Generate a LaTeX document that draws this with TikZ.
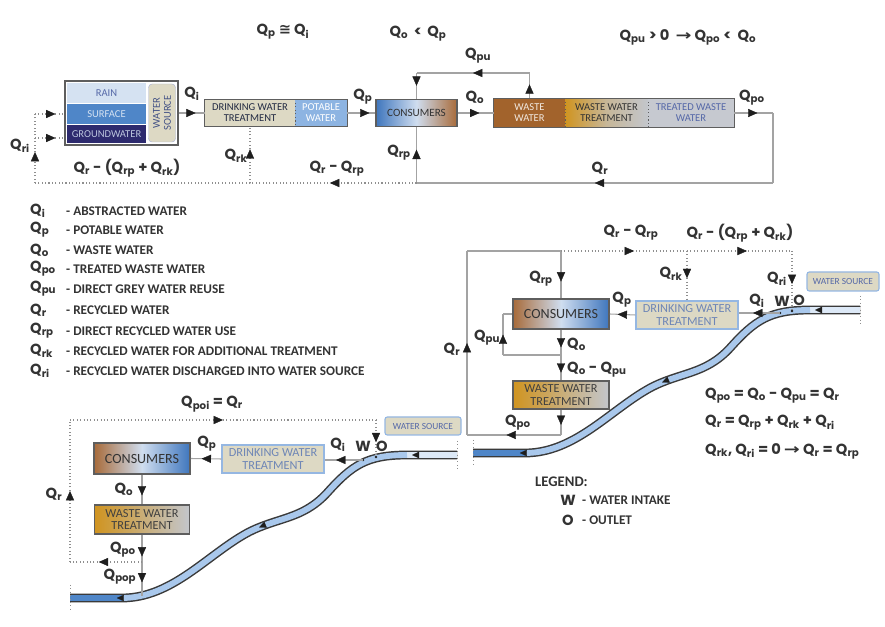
\documentclass[tikz,border=0pt]{standalone}
\usepackage{fontspec}
\usepackage{graphicx}
\setmainfont{Carlito}
\newfontfamily\qfont{Poppins}
\newfontfamily\symfont{DejaVu Sans}
\usetikzlibrary{arrows.meta,decorations.markings}

\definecolor{linegray}{HTML}{A3A3A3}
\definecolor{dotgray}{HTML}{8F8F8F}
\definecolor{tipdark}{HTML}{1E1E1E}
\definecolor{boxedge}{HTML}{5E5E5E}
\definecolor{beige}{HTML}{DDD9C4}
\definecolor{beigeedge}{HTML}{95B7E2}
\definecolor{skyblue}{HTML}{8DB4E2}
\definecolor{rainblue}{HTML}{D5E2F2}
\definecolor{surfblue}{HTML}{4F86C8}
\definecolor{groundnavy}{HTML}{2D2A6E}
\definecolor{consblue}{HTML}{3F76BD}
\definecolor{conspale}{HTML}{CFDDEF}
\definecolor{consbrown}{HTML}{A86B3A}
\definecolor{wastebrown}{HTML}{A2632C}
\definecolor{wwtgold}{HTML}{D09420}
\definecolor{wwtgrey}{HTML}{C3C6CC}
\definecolor{twwgrey}{HTML}{C6C9D0}
\definecolor{txtblue}{HTML}{5568A8}
\definecolor{dwtblue}{HTML}{6E86B6}
\definecolor{riveredge}{HTML}{3A3A3A}
\definecolor{riverdeep}{HTML}{4F86C8}
\definecolor{rivermid}{HTML}{A9C8EC}
\definecolor{riverpale}{HTML}{DDE9F7}

\newcommand{\qs}[1]{Q\textsubscript{#1}}
\newcommand{\qlabfont}{\qfont\bfseries\fontsize{12.5}{14}\selectfont}
\newcommand{\legfont}{\bfseries\fontsize{11.3}{12}\selectfont}
\def\unitpx{0.03cm}

\tikzset{
  flow/.style={draw=linegray, line width=0.9pt},
  dotflow/.style={draw=dotgray, line width=0.9pt, dotted},
  arrowmark/.style={postaction={decorate}, decoration={markings,
      mark=at position #1 with {\arrow{Triangle[length=8pt, width=7pt, line width=0.3pt, color=tipdark]}}}},
  arrowmark/.default=0.5,
  rivertip/.style={postaction={decorate}, decoration={markings,
      mark=at position #1 with {\arrow{Triangle[length=6pt, width=5.5pt, line width=0.2pt, color=tipdark]}}}},
  qlab/.style={font=\qlabfont, text=black!80, inner sep=0pt},
  legtext/.style={font=\legfont, text=black!80, inner sep=0pt, anchor=west},
  plainbox/.style={rectangle, inner sep=0pt, align=center, font=\fontsize{9}{9.5}\selectfont},
  dwtbox/.style={plainbox, fill=beige, draw=beigeedge, line width=1pt, text=dwtblue, font=\fontsize{10.5}{11}\selectfont},
  srcbox/.style={plainbox, fill=beige, draw=beigeedge, line width=1pt, rounded corners=2pt, text=txtblue, font=\fontsize{8}{8}\selectfont},
  consbox/.style={plainbox, draw=boxedge, line width=1.6pt, font=\fontsize{12}{12}\selectfont, text=black!80},
  wwtbox/.style={plainbox, draw=boxedge, line width=1.2pt, left color=wwtgold, right color=wwtgrey, font=\fontsize{10.5}{11}\selectfont, text=black!75},
  wolabel/.style={font=\qfont\bfseries\fontsize{12.5}{13}\selectfont, text=black!80, inner sep=0pt},
  riverdot/.style={circle, fill=tipdark, inner sep=0pt, minimum size=2.5pt}
}

\begin{document}
\begin{tikzpicture}[x=\unitpx, y=-\unitpx]
  \useasboundingbox (0,0) rectangle (885,627);

  % Top scheme: boxes
  \node[plainbox, draw=boxedge, fill=white, line width=1.4pt, minimum width=113*\unitpx, minimum height=64*\unitpx] (src) at (121.5,113) {};
  \node[plainbox, fill=rainblue, text=txtblue, minimum width=79*\unitpx, minimum height=20*\unitpx] (rain) at (106.5,93) {RAIN};
  \node[plainbox, fill=surfblue, text=rainblue, minimum width=79*\unitpx, minimum height=20*\unitpx] (surf) at (106.5,114) {SURFACE};
  \node[plainbox, fill=groundnavy, text=rainblue!85!groundnavy, minimum width=79*\unitpx, minimum height=18*\unitpx] (ground) at (106.5,134) {GROUNDWATER};
  \node[plainbox, fill=beige, draw=txtblue!50, rounded corners=3pt, rotate=90, text=txtblue!80!black, minimum width=58*\unitpx, minimum height=27*\unitpx] (srcname) at (162,113) {WATER\\SOURCE};

  \node[plainbox, fill=beige, text=black!60!txtblue, minimum width=90*\unitpx, minimum height=27*\unitpx] (dwt) at (250,113) {DRINKING WATER\\TREATMENT};
  \node[plainbox, fill=skyblue, text=white, minimum width=52*\unitpx, minimum height=27*\unitpx] (pot) at (321,113) {POTABLE\\WATER};
  \draw[boxedge, line width=1.2pt] (dwt.north west) rectangle (pot.south east);
  \draw[boxedge, dotted, line width=1pt] (dwt.north east) -- (dwt.south east);

  \node[consbox, left color=consblue, right color=consbrown, middle color=conspale, minimum width=81*\unitpx, minimum height=27*\unitpx, font=\fontsize{9.5}{10}\selectfont] (cons) at (416.5,113) {CONSUMERS};

  \node[plainbox, fill=wastebrown, text=white!85!wastebrown, minimum width=71*\unitpx, minimum height=29*\unitpx] (ww) at (529.5,113) {WASTE\\WATER};
  \node[plainbox, left color=wwtgold, right color=wwtgrey, middle color=wwtgrey!70!wwtgold, text=black!80, minimum width=83*\unitpx, minimum height=29*\unitpx] (wwt) at (606.5,113) {WASTE WATER\\TREATMENT};
  \node[plainbox, fill=twwgrey, text=txtblue, minimum width=86*\unitpx, minimum height=29*\unitpx] (tww) at (691,113) {TREATED WASTE\\WATER};
  \draw[boxedge, line width=1.2pt] (ww.north west) rectangle (tww.south east);
  \draw[boxedge, dotted, line width=1pt] (ww.north east) -- (ww.south east);
  \draw[boxedge, dotted, line width=1pt] (wwt.north east) -- (wwt.south east);

  % Top scheme: flows
  \coordinate (riA) at (35,114);
  \coordinate (riB) at (35,138);
  \coordinate (riC) at (35,183);
  \coordinate (rcA) at (773,113);
  \coordinate (rcB) at (773,183);
  \coordinate (rpJ) at (416.5,183);
  \coordinate (rkJ) at (250,183);
  \coordinate (puA) at (529.5,73);
  \coordinate (puB) at (416.5,73);

  \draw[flow, arrowmark=0.65] (src.east) -- (dwt.west);
  \draw[flow, arrowmark=0.8] (pot.east) -- (cons.west);
  \draw[flow, arrowmark=0.6] (cons.east) -- (ww.west);
  \draw[flow, arrowmark=0.55] (ww.north) -- (puA);
  \draw[flow, arrowmark=0.5] (puA) -- (puB);
  \draw[flow, arrowmark=0.5] (puB) -- (cons.north);
  \draw[flow, arrowmark=0.6] (tww.east) -- (rcA);
  \draw[flow] (rcA) -- (rcB);
  \draw[flow, arrowmark=0.5] (rcB) -- (rpJ);
  \draw[flow, arrowmark=0.6] (rpJ) -- (cons.south);
  \draw[dotflow, arrowmark=0.52] (rpJ) -- (rkJ);
  \draw[dotflow, arrowmark=0.6] (rkJ) -- (dwt.south);
  \draw[dotflow] (rkJ) -- (riC);
  \draw[dotflow, arrowmark=0.45] (riC) -- (riA);
  \draw[dotflow, arrowmark=0.7] (riA) -- (riA -| src.west);
  \draw[dotflow, arrowmark=0.7] (riB) -- (riB -| src.west);

  % Top scheme: labels
  \node[qlab] (eqa) at (283,32) {\qs{p} {\symfont ≅} \qs{i}};
  \node[qlab] (eqb) at (418,34) {\qs{o} \,<\, \qs{p}};
  \node[qlab] (eqc) at (688,37) {\qs{pu} > 0 \ {\symfont\scalebox{1.3}[1]{→}}\ \qs{po} < \ \qs{o}};
  \node[qlab] (lqi) at (192,94) {\qs{i}};
  \node[qlab] (lqp) at (363,97) {\qs{p}};
  \node[qlab] (lqo) at (475,97) {\qs{o}};
  \node[qlab] (lqpu) at (478,56) {\qs{pu}};
  \node[qlab] (lqpo) at (752,98) {\qs{po}};
  \node[qlab] (lqr) at (600,168) {\qs{r}};
  \node[qlab] (lqrp) at (399,153) {\qs{rp}};
  \node[qlab] (lqrrp) at (337,169) {\qs{r} - \qs{rp}};
  \node[qlab] (lqrk) at (236,156) {\qs{rk}};
  \node[qlab] (lqrrk) at (127,168) {\qs{r} - (\qs{rp} + \qs{rk})};
  \node[qlab] (lqri) at (20,146) {\qs{ri}};

  % Symbol list
  \node[qlab, anchor=west] (sqi) at (30,211) {\qs{i}};
  \node[legtext] (sti) at (66,211) {- ABSTRACTED WATER};
  \node[qlab, anchor=west] (sqp) at (30,230) {\qs{p}};
  \node[legtext] (stp) at (66,230) {- POTABLE WATER};
  \node[qlab, anchor=west] (sqo) at (30,250) {\qs{o}};
  \node[legtext] (sto) at (66,250) {- WASTE WATER};
  \node[qlab, anchor=west] (sqpo) at (30,269) {\qs{po}};
  \node[legtext] (stpo) at (66,269) {- TREATED WASTE WATER};
  \node[qlab, anchor=west] (sqpu) at (30,289) {\qs{pu}};
  \node[legtext] (stpu) at (66,289) {- DIRECT GREY WATER REUSE};
  \node[qlab, anchor=west] (sqr) at (30,310) {\qs{r}};
  \node[legtext] (str) at (66,310) {- RECYCLED WATER};
  \node[qlab, anchor=west] (sqrp) at (30,331) {\qs{rp}};
  \node[legtext] (strp) at (66,331) {- DIRECT RECYCLED WATER USE};
  \node[qlab, anchor=west] (sqrk) at (30,351) {\qs{rk}};
  \node[legtext] (strk) at (66,351) {- RECYCLED WATER FOR ADDITIONAL TREATMENT};
  \node[qlab, anchor=west] (sqri) at (30,371) {\qs{ri}};
  \node[legtext] (stri) at (66,371) {- RECYCLED WATER DISCHARGED INTO WATER SOURCE};

  % Rivers
  \foreach \dx/\dy in {0/0,-403/145}{
    \begin{scope}[shift={(\dx,\dy)}]
      \draw[riveredge, line width=7.5pt] (860,310) -- (810,310) .. controls (770,310) and (755,320) .. (730,348)
        .. controls (705,375) and (680,372) .. (650,388) .. controls (610,410) and (575,453) .. (525,453) -- (473,453);
      \draw[riverpale, line width=5pt, rivertip=0.9] (860,310) -- (810,310);
      \draw[rivermid, line width=5pt, rivertip=0.52] (810,310) .. controls (770,310) and (755,320) .. (730,348)
        .. controls (705,375) and (680,372) .. (650,388) .. controls (610,410) and (575,453) .. (525,453);
      \draw[riverdeep, line width=5pt, rivertip=0.1] (525,453) -- (473,453);
      \draw[dotflow, line width=0.6pt] (860,296) -- (860,324);
      \draw[dotflow, line width=0.6pt] (473,440) -- (473,466);
    \end{scope}
  }

  % Right scheme
  \node[consbox, left color=consbrown, right color=consblue, middle color=conspale, minimum width=96*\unitpx, minimum height=30*\unitpx] (cons2) at (561,314) {CONSUMERS};
  \node[wwtbox, minimum width=96*\unitpx, minimum height=28*\unitpx] (wwt2) at (561,395) {WASTE WATER\\TREATMENT};
  \node[dwtbox, minimum width=102*\unitpx, minimum height=28*\unitpx] (dwt2) at (687,315) {DRINKING WATER\\TREATMENT};
  \node[srcbox, minimum width=72*\unitpx, minimum height=19*\unitpx] (src2) at (843,281.5) {WATER SOURCE};

  \coordinate (intW) at (780,313);
  \coordinate (outO) at (792,311);
  \node[riverdot] (wdot) at (intW) {};
  \node[riverdot] (odot) at (outO) {};
  \coordinate (tA) at (467,251);
  \coordinate (tB) at (561,251);
  \coordinate (tC) at (687,251);
  \coordinate (tD) at (792,251);
  \coordinate (bA) at (467,435);
  \coordinate (bB) at (561,435);
  \coordinate (puC) at (503,314);
  \coordinate (puD) at (503,355);
  \coordinate (puE) at (561,355);

  \draw[flow, arrowmark=0.5] (bA) -- (tA);
  \draw[flow] (tA) -- (tB);
  \draw[flow, arrowmark=0.65] (tB) -- (cons2.north);
  \draw[dotflow, arrowmark=0.58] (tB) -- (tC);
  \draw[dotflow, arrowmark=0.57] (tC) -- (tD);
  \draw[dotflow, arrowmark=0.55] (tC) -- (dwt2.north);
  \draw[dotflow, arrowmark=0.55] (tD) -- (outO);
  \draw[flow, arrowmark=0.7] (dwt2.west) -- (cons2.east);
  \draw[flow, arrowmark=0.65] (intW) -- (intW -| dwt2.east);
  \draw[flow] (cons2.west) -- (puC);
  \draw[flow, arrowmark=0.5] (puD) -- (puC);
  \draw[flow] (puE) -- (puD);
  \draw[flow, arrowmark=0.7] (cons2.south) -- (puE);
  \draw[flow, arrowmark=0.7] (puE) -- (wwt2.north);
  \draw[flow, arrowmark=0.6] (wwt2.south) -- (bB);
  \draw[flow, arrowmark=0.58] (bB) -- (bA);

  \node[qlab] (rqrrp) at (631,233) {\qs{r} - \qs{rp}};
  \node[qlab] (rqrrk) at (740,233) {\qs{r} - (\qs{rp} + \qs{rk})};
  \node[qlab] (rqrp) at (541,279) {\qs{rp}};
  \node[qlab] (rqrk) at (671,274) {\qs{rk}};
  \node[qlab] (rqri) at (777,279) {\qs{ri}};
  \node[qlab] (rqp) at (622,300) {\qs{p}};
  \node[qlab] (rqi) at (757,301) {\qs{i}};
  \node[wolabel] (rw) at (782,301) {W};
  \node[wolabel] (ro) at (799,300) {O};
  \node[qlab] (rqpu) at (487,338) {\qs{pu}};
  \node[qlab] (rqr) at (452,349) {\qs{r}};
  \node[qlab, anchor=west] (rqo) at (567,344) {\qs{o}};
  \node[qlab, anchor=west] (rqopu) at (567,370) {\qs{o} - \qs{pu}};
  \node[qlab] (rqpo) at (518,423) {\qs{po}};

  \node[qlab, anchor=west] (eqd) at (705,396) {\qs{po} = \qs{o} - \qs{pu} = \qs{r}};
  \node[qlab, anchor=west] (eqe) at (705,423) {\qs{r} = \qs{rp} + \qs{rk} + \qs{ri}};
  \node[qlab, anchor=west] (eqf) at (705,451) {\qs{rk}, \qs{ri} = 0 {\symfont\scalebox{1.3}[1]{→}} \qs{r} = \qs{rp}};

  % Left scheme
  \node[consbox, left color=consbrown, right color=consblue, middle color=conspale, minimum width=96*\unitpx, minimum height=31*\unitpx] (cons3) at (142,458.5) {CONSUMERS};
  \node[dwtbox, minimum width=102*\unitpx, minimum height=28*\unitpx] (dwt3) at (273,459) {DRINKING WATER\\TREATMENT};
  \node[wwtbox, minimum width=95*\unitpx, minimum height=29*\unitpx] (wwt3) at (142,519.5) {WASTE WATER\\TREATMENT};
  \node[srcbox, minimum width=76*\unitpx, minimum height=18*\unitpx] (src3) at (423,426) {WATER SOURCE};

  \coordinate (intWb) at (363,460);
  \coordinate (outOb) at (376,457);
  \node[riverdot] (wdotb) at (intWb) {};
  \node[riverdot] (odotb) at (outOb) {};
  \coordinate (lA) at (70,420);
  \coordinate (lB) at (376,420);
  \coordinate (lC) at (70,562);
  \coordinate (lD) at (142,562);
  \coordinate (popE) at (142,596);

  \draw[dotflow, arrowmark=0.5] (lC) -- (lA);
  \draw[dotflow, arrowmark=0.5] (lA) -- (lB);
  \draw[dotflow, arrowmark=0.6] (lB) -- (outOb);
  \draw[flow, arrowmark=0.65] (dwt3.west) -- (cons3.east);
  \draw[flow, arrowmark=0.7] (intWb) -- (intWb -| dwt3.east);
  \draw[flow, arrowmark=0.7] (cons3.south) -- (wwt3.north);
  \draw[flow, arrowmark=0.8] (wwt3.south) -- (lD);
  \draw[flow, arrowmark=0.6] (lD) -- (popE);
  \draw[dotflow, arrowmark=0.6] (lD) -- (lC);

  \node[qlab] (lqpoi) at (212,404) {\qs{poi} = \qs{r}};
  \node[qlab] (lqpb) at (207,444) {\qs{p}};
  \node[qlab] (lqib) at (338,445) {\qs{i}};
  \node[wolabel] (lw) at (363,446) {W};
  \node[wolabel] (lo) at (382,446) {O};
  \node[qlab] (lqrb) at (54,494) {\qs{r}};
  \node[qlab] (lqob) at (124,489) {\qs{o}};
  \node[qlab] (lqpob) at (123,550) {\qs{po}};
  \node[qlab] (lqpop) at (120,577) {\qs{pop}};

  % Legend
  \node[legtext, font=\bfseries\fontsize{12.5}{13}\selectfont] (legtitle) at (535,482) {LEGEND:};
  \node[wolabel] (legw) at (568,500) {W};
  \node[legtext] (legwt) at (582,500) {- WATER INTAKE};
  \node[wolabel] (lego) at (568,520) {O};
  \node[legtext] (legot) at (582,520) {- OUTLET};
\end{tikzpicture}
\end{document}
